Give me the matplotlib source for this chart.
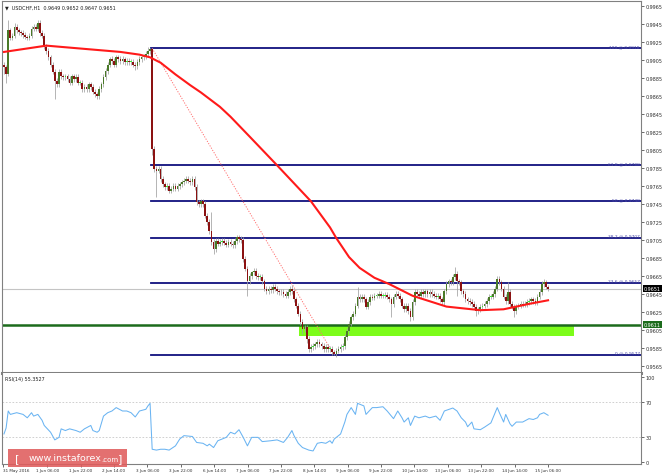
import numpy as np
import matplotlib
matplotlib.use("Agg")
import matplotlib.pyplot as plt
import matplotlib.transforms as mtrans
from matplotlib.patches import Rectangle

# USDCHF H1 closes, in 1/10000 (9897 -> 0.9897)
closes = [
    9897, 9890, 9938, 9930, 9932, 9942, 9938, 9936, 9935, 9933, 9931, 9930, 9932, 9940, 9942, 9940, 9946, 9935, 9932, 9920,
    9915, 9908, 9900, 9892, 9882, 9878, 9892, 9887, 9886, 9887, 9884, 9880, 9887, 9884, 9886, 9880, 9880, 9873, 9875, 9873,
    9878, 9875, 9870, 9867, 9865, 9873, 9878, 9886, 9893, 9900, 9906, 9904, 9900, 9908, 9906, 9904, 9906, 9903, 9904, 9903,
    9903, 9900, 9898, 9903, 9906, 9908, 9909, 9912, 9915, 9917, 9806, 9784, 9782, 9784, 9773, 9767, 9764, 9765, 9760, 9762,
    9765, 9762, 9765, 9767, 9769, 9771, 9773, 9771, 9769, 9773, 9764, 9747, 9745, 9748, 9745, 9732, 9725, 9715, 9703, 9695,
    9704, 9701, 9703, 9704, 9702, 9700, 9703, 9701, 9699, 9704, 9708, 9706, 9705, 9684, 9673, 9659, 9665, 9669, 9671, 9665,
    9664, 9664, 9659, 9651, 9648, 9651, 9649, 9653, 9651, 9648, 9647, 9647, 9645, 9643, 9647, 9651, 9648, 9639, 9632, 9623,
    9614, 9606, 9608, 9595, 9584, 9586, 9587, 9589, 9592, 9589, 9587, 9584, 9586, 9584, 9584, 9580, 9578, 9582, 9584, 9586,
    9587, 9597, 9604, 9612, 9619, 9623, 9632, 9642, 9639, 9642, 9639, 9631, 9636, 9642, 9641, 9643, 9643, 9645, 9643, 9643,
    9644, 9642, 9639, 9634, 9642, 9645, 9643, 9639, 9632, 9628, 9632, 9626, 9619, 9636, 9647, 9645, 9643, 9647, 9645, 9648,
    9645, 9647, 9645, 9643, 9642, 9643, 9639, 9636, 9648, 9656, 9659, 9658, 9664, 9667, 9659, 9658, 9648, 9645, 9639, 9637,
    9636, 9634, 9631, 9626, 9628, 9631, 9632, 9634, 9637, 9642, 9642, 9645, 9651, 9662, 9658, 9651, 9642, 9637, 9647, 9634,
    9631, 9626, 9631, 9632, 9634, 9633, 9634, 9636, 9637, 9639, 9637, 9636, 9642, 9647, 9656, 9658, 9653, 9651,
]
first_open = 9900
# wick length above / below the body, same units
up_wick = [
    3, 3, 12, 3, 3, 4, 3, 3, 2, 3, 3, 2, 3, 3, 3, 3, 4, 3, 3, 3,
    3, 3, 3, 3, 3, 3, 3, 3, 2, 3, 3, 3, 3, 2, 3, 3, 3, 3, 3, 3,
    3, 3, 3, 3, 2, 3, 3, 3, 3, 3, 2, 3, 3, 3, 3, 3, 3, 2, 3, 3,
    3, 3, 3, 3, 3, 3, 3, 3, 4, 1, 1, 3, 3, 3, 3, 3, 3, 3, 3, 3,
    3, 3, 3, 3, 3, 3, 3, 3, 3, 3, 3, 3, 3, 3, 3, 3, 3, 3, 21, 3,
    3, 3, 3, 3, 3, 3, 3, 3, 3, 3, 3, 3, 3, 3, 3, 3, 3, 2, 3, 3,
    3, 3, 3, 3, 3, 3, 3, 3, 3, 3, 3, 3, 3, 3, 3, 3, 4, 3, 3, 3,
    3, 3, 3, 3, 3, 3, 3, 3, 3, 3, 3, 3, 3, 3, 3, 3, 3, 3, 3, 3,
    3, 3, 3, 3, 3, 3, 3, 11, 3, 3, 3, 3, 3, 3, 3, 3, 3, 3, 3, 3,
    3, 3, 3, 3, 3, 3, 3, 3, 3, 3, 3, 3, 3, 3, 3, 3, 3, 3, 3, 3,
    3, 3, 3, 3, 3, 3, 3, 3, 3, 3, 3, 3, 3, 8, 3, 3, 3, 3, 3, 3,
    3, 3, 3, 3, 3, 3, 3, 3, 3, 3, 3, 3, 3, 3, 3, 3, 3, 3, 11, 3,
    3, 3, 3, 3, 3, 3, 3, 3, 3, 3, 3, 3, 3, 3, 3, 4, 3, 2,
]
dn_wick = [
    8, 10, 3, 3, 3, 3, 3, 3, 3, 3, 3, 3, 3, 3, 3, 3, 3, 3, 3, 3,
    3, 3, 3, 3, 20, 3, 3, 3, 3, 3, 3, 3, 3, 3, 3, 3, 3, 3, 3, 3,
    3, 3, 3, 3, 3, 3, 3, 3, 3, 3, 3, 3, 3, 3, 3, 3, 3, 3, 3, 3,
    3, 3, 4, 3, 3, 3, 3, 3, 3, 3, 6, 3, 29, 3, 3, 3, 3, 3, 3, 3,
    3, 3, 3, 3, 3, 3, 3, 3, 3, 3, 3, 3, 3, 3, 3, 3, 3, 3, 3, 6,
    3, 3, 3, 3, 3, 3, 3, 3, 3, 3, 3, 3, 3, 3, 3, 16, 3, 3, 3, 3,
    3, 3, 3, 3, 3, 3, 3, 3, 3, 3, 3, 3, 3, 3, 3, 3, 3, 3, 3, 3,
    3, 5, 3, 4, 3, 3, 3, 3, 3, 3, 3, 3, 3, 3, 3, 3, 1, 3, 3, 3,
    3, 3, 3, 3, 3, 3, 3, 3, 3, 3, 3, 3, 3, 3, 3, 3, 3, 3, 3, 3,
    3, 3, 3, 15, 3, 3, 3, 3, 3, 3, 3, 3, 4, 3, 3, 3, 3, 3, 3, 3,
    3, 3, 3, 3, 3, 3, 3, 3, 3, 3, 3, 3, 3, 3, 16, 3, 3, 3, 3, 3,
    3, 3, 3, 6, 3, 3, 3, 3, 3, 3, 3, 3, 3, 3, 3, 3, 3, 3, 3, 3,
    3, 7, 3, 3, 3, 3, 3, 3, 3, 3, 3, 3, 3, 3, 3, 3, 3, 3,
]

# moving average (red): bar index -> price
ma_bar = [0, 20, 45, 55, 64, 69, 74, 81, 88, 93, 102, 107, 116, 129, 137, 145, 154, 157, 163, 168, 175, 182, 193, 209, 225, 236, 248, 257]
ma_val = [0.9914, 0.9921, 0.9916, 0.9914, 0.9911, 0.9908, 0.9902, 0.9889, 0.9877, 0.9869, 0.9853, 0.9842, 0.9820, 0.9788,
          0.9768, 0.9748, 0.9719, 0.9707, 0.9686, 0.9674, 0.9663, 0.9656, 0.9643, 0.9631, 0.9627, 0.9628, 0.9634, 0.9638]

# fibonacci retracement
fib_pct = ["100", "61.8", "50", "38.2", "23.6", "0"]
fib_val = [0.9918, 0.9788, 0.9748, 0.9707, 0.9657, 0.9577]
fib_start = 69.6
fib_trend_bar = [70, 156]
fib_trend_val = [0.9918, 0.9577]

support = 0.9611
zone = (0.9598, 0.9611)
zone_bar = (139.3, 269.2)
last_price = 0.9651

# RSI(14)
rsi_bar = [0, 1, 2, 3, 6, 9, 11, 13, 14, 16, 18, 19, 22, 24, 26, 27, 29, 31, 34, 36, 38, 41, 42, 44, 45, 47, 49, 51, 53,
           56, 58, 60, 62, 64, 67, 68, 69, 70, 72, 74, 76, 78, 81, 83, 85, 89, 91, 94, 96, 97, 99, 101, 103, 105, 107,
           109, 111, 113, 115, 117, 120, 122, 126, 129, 132, 134, 136, 137, 139, 141, 144, 146, 148, 150, 152, 154,
           155, 156, 159, 161, 162, 164, 166, 167, 170, 171, 174, 176, 179, 181, 183, 184, 186, 188, 189, 191, 192,
           194, 196, 199, 201, 204, 206, 208, 212, 214, 216, 218, 219, 221, 222, 225, 227, 230, 231, 233, 234, 236,
           237, 239, 240, 242, 245, 248, 250, 252, 253, 255, 257]
rsi_val = [33, 40, 60, 56, 58, 56, 52, 58, 54, 56, 49, 43, 35, 26, 29, 39, 37, 39, 37, 35, 39, 43, 37, 35, 37, 54, 58, 60,
           64, 60, 60, 58, 53, 60, 62, 66, 69, 15, 14, 15, 15, 14, 19, 27, 31, 30, 23, 22, 19, 21, 17, 25, 27, 29, 35,
           33, 38, 29, 19, 29, 29, 24, 25, 26, 23, 29, 37, 31, 22, 17, 14, 13, 22, 23, 22, 25, 22, 27, 33, 47, 56, 64,
           56, 69, 66, 56, 64, 64, 65, 60, 54, 51, 60, 52, 47, 52, 43, 54, 52, 54, 52, 54, 49, 60, 63.5, 60, 52, 47,
           41.5, 47, 39, 38, 41, 46, 52, 64, 58, 47, 56, 45, 42, 47, 47, 51, 50, 52, 56, 58, 55]

date_labels = ["31 May 2016", "1 Jun 06:00", "1 Jun 22:00", "2 Jun 14:00", "3 Jun 06:00", "3 Jun 22:00", "6 Jun 14:00",
               "7 Jun 06:00", "7 Jun 22:00", "8 Jun 14:00", "9 Jun 06:00", "9 Jun 22:00", "10 Jun 14:00",
               "13 Jun 06:00", "13 Jun 22:00", "14 Jun 14:00", "15 Jun 06:00"]

W, H = 664, 477
fig = plt.figure(figsize=(W / 100, H / 100), dpi=100)
fig.patch.set_facecolor("white")
ax = fig.add_axes([2 / W, 1 - 374 / H, 639 / W, 372 / H])
ax2 = fig.add_axes([2 / W, 1 - 465 / H, 639 / W, 91 / H])

xmin, xmax = -0.94, 300.9
fs = 3.5
axis_col = "#808080"
txt_col = "#303030"

# candles
c = np.array(closes) / 1e4
o = np.concatenate([[first_open], closes[:-1]]) / 1e4
hi = np.maximum(o, c) + np.array(up_wick) / 1e4
lo = np.minimum(o, c) - np.array(dn_wick) / 1e4
xs = np.arange(len(c))
bull = c >= o
small = np.abs(c - o) <= 0.00011
body_col = np.where(bull, np.where(small, "#33ee33", "#4a7a28"), "#8b1212")

ax.axhline(last_price, color="#c4c4c4", lw=0.8, zorder=1)
ax.add_patch(Rectangle((zone_bar[0], zone[0]), zone_bar[1] - zone_bar[0], zone[1] - zone[0],
                       facecolor="#7dfc1a", edgecolor="none", zorder=1.5))
ax.axhline(support, color="#1c6b1c", lw=1.8, zorder=2)

for p, v in zip(fib_pct, fib_val):
    ax.plot([fib_start, xmax], [v, v], color="#10107e", lw=1.3, zorder=2)
    ax.text(xmax - 0.6, v + 0.00004, f"{p} @ {v:.4f}", fontsize=3.2, color="#4848a8",
            ha="right", va="bottom", zorder=5)
ax.plot(fib_trend_bar, fib_trend_val, color="#ff7070", lw=0.7, ls=(0, (1.2, 1.5)), zorder=2.5)

ax.vlines(xs, lo, hi, color="#a0a0a0", lw=0.55, zorder=3)
ax.bar(xs, np.maximum(np.abs(c - o), 0.00005), bottom=np.minimum(o, c), width=0.8,
       color=body_col, edgecolor="none", zorder=3.5)

ax.plot(ma_bar, ma_val, color="#ff1a1a", lw=1.5, zorder=4, solid_joinstyle="round")

ax.set_xlim(xmin, xmax)
ax.set_ylim(0.95572, 0.99706)
yt = np.arange(0.9565, 0.99655, 0.002)
ax.set_yticks(yt)
ax.set_yticklabels([f"{v:.4f}" for v in yt])
ax.set_xticks([])
ax.tick_params(axis="y", left=False, labelleft=False, right=True, labelright=True,
               length=2, width=0.5, pad=1.5, labelsize=fs, colors=txt_col)
for s in ax.spines.values():
    s.set_color(axis_col)
    s.set_linewidth(0.8)
ax.spines["bottom"].set_linewidth(2.2)

trans = mtrans.blended_transform_factory(ax.transAxes, ax.transData)
ax.text(1.004, last_price, f"{last_price:.4f}", transform=trans, fontsize=fs, color="white",
        ha="left", va="center", zorder=10, clip_on=False,
        bbox=dict(facecolor="black", edgecolor="none", pad=0.7))
ax.text(1.004, support, f"{support:.4f}", transform=trans, fontsize=fs, color="white",
        ha="left", va="center", zorder=10, clip_on=False,
        bbox=dict(facecolor="#1c6b1c", edgecolor="none", pad=0.7))

ax.text(0.004, 0.992, "\u25bc  USDCHF,H1  0.9649 0.9652 0.9647 0.9651", transform=ax.transAxes,
        fontsize=fs, color="#202020", ha="left", va="top")

# RSI panel
ax2.axhline(70, color="#c8c8c8", lw=0.6, ls=(0, (2, 2)))
ax2.axhline(30, color="#c8c8c8", lw=0.6, ls=(0, (2, 2)))
ax2.plot(rsi_bar, rsi_val, color="#6ab4f2", lw=0.75)
ax2.set_xlim(xmin, xmax)
ax2.set_ylim(-2.35, 104.7)
ax2.set_yticks([0, 30, 70, 100])
ax2.tick_params(axis="y", left=False, labelleft=False, right=True, labelright=True,
                length=2, width=0.5, pad=1.5, labelsize=fs, colors=txt_col)
ticks = [4.65 + 15.77 * k for k in range(len(date_labels))]
ticks[0] = xmin + 0.3
ax2.set_xticks(ticks)
ax2.set_xticklabels(date_labels)
ax2.tick_params(axis="x", length=2, width=0.5, pad=1, labelsize=3.0, colors=txt_col)
ax2.get_xticklabels()[0].set_horizontalalignment("left")
for s in ax2.spines.values():
    s.set_color(axis_col)
    s.set_linewidth(0.8)
ax2.spines["top"].set_visible(False)
ax2.text(0.004, 0.97, "RSI(14) 55.3527", transform=ax2.transAxes, fontsize=fs,
         color="#202020", ha="left", va="top")

# watermark
fig.patches.append(Rectangle((8 / W, 1 - 468 / H), 119 / W, 18 / H, transform=fig.transFigure,
                             facecolor="#e05c5c", edgecolor="none", alpha=0.88, zorder=20))
fig.text(17 / W, 1 - 459 / H, "[", fontsize=8, color="white", ha="center", va="center", zorder=21)
fig.text(101 / W, 1 - 459 / H, "www.instaforex", fontsize=6.8, color="white", ha="right", va="center", zorder=21)
fig.text(101 / W, 1 - 460 / H, ".com", fontsize=5, color="white", ha="left", va="center", zorder=21)
fig.text(120 / W, 1 - 459 / H, "]", fontsize=8, color="white", ha="center", va="center", zorder=21)

fig.savefig("out.png", dpi=100)
